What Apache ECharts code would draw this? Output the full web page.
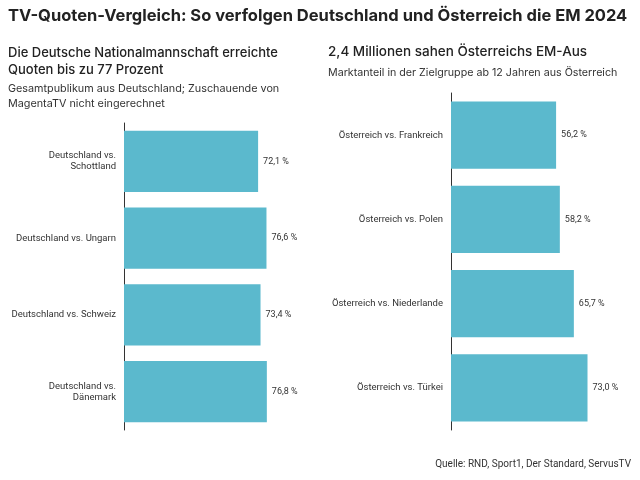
<!DOCTYPE html>
<html><head><meta charset="utf-8">
<script src="https://cdn.jsdelivr.net/npm/echarts@6/dist/echarts.min.js"></script>
<style>html,body{margin:0;padding:0;background:#fff}#c{width:640px;height:480px}</style>
</head><body><div id="c"></div>
<script>
const deCategories = ["Deutschland vs.\nSchottland", "Deutschland vs. Ungarn", "Deutschland vs. Schweiz", "Deutschland vs.\nDänemark"];
const deValues = [72.1, 76.6, 73.4, 76.8];
const atCategories = ["Österreich vs. Frankreich", "Österreich vs. Polen", "Österreich vs. Niederlande", "Österreich vs. Türkei"];
const atValues = [56.2, 58.2, 65.7, 73.0];

const font = "Roboto, 'Noto Sans', sans-serif";
const hfont = "Inter, Roboto, sans-serif";
const barColor = "#5bb9cd";
const fmt = p => p.value.toFixed(1).replace('.', ',') + ' %';

const chart = echarts.init(document.getElementById('c'), null, {renderer: 'canvas'});
function yAx(gi, cats) {
  return {
    type: 'category', gridIndex: gi, data: cats, inverse: true,
    axisLine: {show: true, lineStyle: {color: '#333', width: 1}},
    axisTick: {show: false},
    axisLabel: {color: '#333', fontSize: 9.5, fontFamily: font, margin: 8, lineHeight: 11, align: 'right'}
  };
}
function xAx(gi) {
  return {type: 'value', gridIndex: gi, min: 0, max: 100, show: false, splitLine: {show: false}};
}
function ser(i, vals) {
  return {
    type: 'bar', xAxisIndex: i, yAxisIndex: i, data: vals, barCategoryGap: '20%',
    itemStyle: {color: barColor},
    label: {show: true, position: 'right', distance: 5, color: '#333', fontSize: 9, fontFamily: font, formatter: fmt},
    silent: true
  };
}
chart.setOption({
  animation: false,
  title: [
    {text: 'TV-Quoten-Vergleich: So verfolgen Deutschland und Österreich die EM 2024', left: 8, top: 8, padding: 0,
     textStyle: {fontSize: 16.5, fontWeight: 'bold', color: '#222', fontFamily: hfont}},
    {text: 'Die Deutsche Nationalmannschaft erreichte\nQuoten bis zu 77 Prozent', left: 8, top: 45, padding: 0,
     textStyle: {fontSize: 13, fontWeight: 500, color: '#222', fontFamily: hfont, lineHeight: 17}},
    {text: 'Gesamtpublikum aus Deutschland; Zuschauende von\nMagentaTV nicht eingerechnet', left: 8, top: 81, padding: 0,
     textStyle: {fontSize: 10.8, fontWeight: 'normal', color: '#333', fontFamily: hfont, lineHeight: 15}},
    {text: '2,4 Millionen sahen Österreichs EM-Aus', left: 328, top: 45, padding: 0,
     textStyle: {fontSize: 13.5, fontWeight: 500, color: '#222', fontFamily: hfont}},
    {text: 'Marktanteil in der Zielgruppe ab 12 Jahren aus Österreich', left: 328, top: 67, padding: 0,
     textStyle: {fontSize: 10.7, fontWeight: 'normal', color: '#333', fontFamily: hfont}},
    {text: 'Quelle: RND, Sport1, Der Standard, ServusTV', right: 9, top: 459, padding: 0,
     textStyle: {fontSize: 10, fontWeight: 'normal', color: '#333', fontFamily: font}}
  ],
  grid: [
    {left: 124, top: 123, width: 186, height: 307},
    {left: 451, top: 93, width: 187, height: 337}
  ],
  xAxis: [xAx(0), xAx(1)],
  yAxis: [yAx(0, deCategories), yAx(1, atCategories)],
  series: [ser(0, deValues), ser(1, atValues)]
});
</script></body></html>
